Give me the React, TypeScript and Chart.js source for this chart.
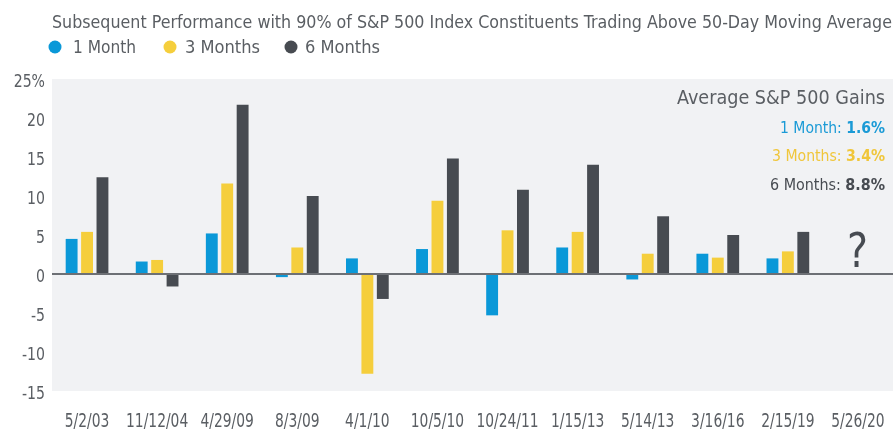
import React, { useEffect, useRef } from "react";
import { Chart, registerables } from "chart.js";

Chart.register(...registerables);

const categories = ["5/2/03", "11/12/04", "4/29/09", "8/3/09", "4/1/10", "10/5/10", "10/24/11", "1/15/13", "5/14/13", "3/16/16", "2/15/19", "5/26/20"];
const oneMonth = [4.5, 1.6, 5.2, -0.4, 2.0, 3.2, -5.3, 3.4, -0.7, 2.6, 2.0, null];
const threeMonths = [5.4, 1.8, 11.6, 3.4, -12.8, 9.4, 5.6, 5.4, 2.6, 2.1, 2.9, null];
const sixMonths = [12.4, -1.6, 21.7, 10.0, -3.2, 14.8, 10.8, 14.0, 7.4, 5.0, 5.4, null];
const seriesNames = ["1 Month", "3 Months", "6 Months"];
const averageGains = ["1.6%", "3.4%", "8.8%"];
const yTicks = { min: -15, max: 25, step: 5 };
const titleText = "Subsequent Performance with 90% of S&P 500 Index Constituents Trading Above 50-Day Moving Average";
const annotationTitle = "Average S&P 500 Gains";
const pendingMark = "?";

const COLORS = ["#0a98d8", "#f5ce3c", "#474b51"];
const TEXT = "#5a5e63";
const FAMILY = '"DejaVu Sans Condensed", "DejaVu Sans", sans-serif';

type Part = { text: string; bold?: boolean; color: string };

function drawFit(ctx: CanvasRenderingContext2D, parts: Part[], left: number, baseline: number, width: number, size: number) {
  let total = 0;
  const widths: number[] = [];
  for (const p of parts) {
    ctx.font = `${p.bold ? "bold " : ""}${size}px ${FAMILY}`;
    const w = ctx.measureText(p.text).width;
    widths.push(w);
    total += w;
  }
  const s = width / total;
  ctx.save();
  ctx.translate(left, baseline);
  ctx.scale(s, 1);
  ctx.textBaseline = "alphabetic";
  ctx.textAlign = "left";
  let x = 0;
  parts.forEach((p, i) => {
    ctx.font = `${p.bold ? "bold " : ""}${size}px ${FAMILY}`;
    ctx.fillStyle = p.color;
    ctx.fillText(p.text, x, 0);
    x += widths[i];
  });
  ctx.restore();
}

function drawCondensed(ctx: CanvasRenderingContext2D, text: string, x: number, y: number, align: CanvasTextAlign, size: number, condense: number) {
  ctx.save();
  ctx.translate(x, y);
  ctx.scale(condense, 1);
  ctx.font = `${size}px ${FAMILY}`;
  ctx.fillStyle = TEXT;
  ctx.textAlign = align;
  ctx.textBaseline = "alphabetic";
  ctx.fillText(text, 0, 0);
  ctx.restore();
}

const decorPlugin = {
  id: "decor",
  beforeDraw(chart: any) {
    const { ctx, chartArea } = chart;
    ctx.save();
    ctx.fillStyle = "#f1f2f4";
    ctx.fillRect(chartArea.left, chartArea.top, chartArea.right - chartArea.left, chartArea.bottom - chartArea.top);
    ctx.restore();
  },
  afterDatasetsDraw(chart: any) {
    const { ctx, chartArea } = chart;
    const y0 = chart.scales.y.getPixelForValue(0);
    ctx.save();
    ctx.strokeStyle = "#6d7075";
    ctx.lineWidth = 2;
    ctx.beginPath();
    ctx.moveTo(chartArea.left, y0);
    ctx.lineTo(chartArea.right, y0);
    ctx.stroke();
    ctx.restore();
  },
  afterDraw(chart: any) {
    const { ctx } = chart;
    const xs = chart.scales.x;
    const ys = chart.scales.y;
    // axis labels (positions from the scales)
    xs.ticks.forEach((t: any, i: number) => {
      drawCondensed(ctx, categories[t.value ?? i], xs.getPixelForTick(i), 427, "center", 20, 0.77);
    });
    ys.ticks.forEach((t: any) => {
      const label = t.value === yTicks.max ? `${t.value}%` : `${t.value}`;
      drawCondensed(ctx, label, 45, ys.getPixelForValue(t.value) + 8, "right", 18, 0.87);
    });
    // title
    drawFit(ctx, [{ text: titleText, color: TEXT }], 52, 28, 840, 17);
    // legend
    const legendCircles = [55, 170, 291];
    const legendText = [
      [73, 63],
      [185, 75],
      [305, 75],
    ];
    seriesNames.forEach((name, i) => {
      ctx.save();
      ctx.fillStyle = COLORS[i];
      ctx.beginPath();
      ctx.arc(legendCircles[i], 47, 6.5, 0, Math.PI * 2);
      ctx.fill();
      ctx.restore();
      drawFit(ctx, [{ text: name, color: TEXT }], legendText[i][0], 53, legendText[i][1], 17);
    });
    // annotation
    drawFit(ctx, [{ text: annotationTitle, color: TEXT }], 677, 104, 208, 19);
    const lines = [
      [780, 133],
      [772, 161],
      [770, 190],
    ];
    const lineColors = ["#1a9ad6", "#f0c63a", "#474b51"];
    seriesNames.forEach((name, i) => {
      const [left, base] = lines[i];
      drawFit(
        ctx,
        [
          { text: name + ": ", color: lineColors[i] },
          { text: averageGains[i], bold: true, color: lineColors[i] },
        ],
        left,
        base,
        885 - left,
        16
      );
    });
    // pending mark
    const xc = xs.getPixelForValue(categories.length - 1);
    drawFit(ctx, [{ text: pendingMark, color: "#474b51" }], xc - 11, 267, 21, 48);
  },
};

export default function App() {
  const ref = useRef<HTMLCanvasElement | null>(null);
  useEffect(() => {
    document.body.style.margin = "0";
    const canvas = ref.current!;
    const chart = new Chart(canvas, {
      type: "bar",
      data: {
        labels: categories,
        datasets: [
          { label: seriesNames[0], data: oneMonth, backgroundColor: COLORS[0] },
          { label: seriesNames[1], data: threeMonths, backgroundColor: COLORS[1] },
          { label: seriesNames[2], data: sixMonths, backgroundColor: COLORS[2] },
        ],
      },
      options: {
        responsive: false,
        animation: false,
        devicePixelRatio: 1,
        layout: { padding: { top: 79, right: 2, bottom: 0, left: 0 } },
        datasets: { bar: { barPercentage: 0.77, categoryPercentage: 0.66 } },
        plugins: {
          legend: { display: false },
          title: { display: false },
          tooltip: { enabled: false },
        },
        scales: {
          x: {
            grid: { display: false, drawTicks: false },
            border: { display: false },
            ticks: { display: false, autoSkip: false, maxRotation: 0 },
            afterFit: (s: any) => {
              s.height = 39;
            },
          },
          y: {
            min: yTicks.min,
            max: yTicks.max,
            grid: { display: false, drawTicks: false },
            border: { display: false },
            ticks: { display: false, stepSize: yTicks.step },
            afterFit: (s: any) => {
              s.width = 52;
            },
          },
        },
      },
      plugins: [decorPlugin],
    } as any);
    return () => chart.destroy();
  }, []);
  return (
    <div style={{ width: 895, height: 430, background: "#fff" }}>
      <canvas ref={ref} width={895} height={430} />
    </div>
  );
}
